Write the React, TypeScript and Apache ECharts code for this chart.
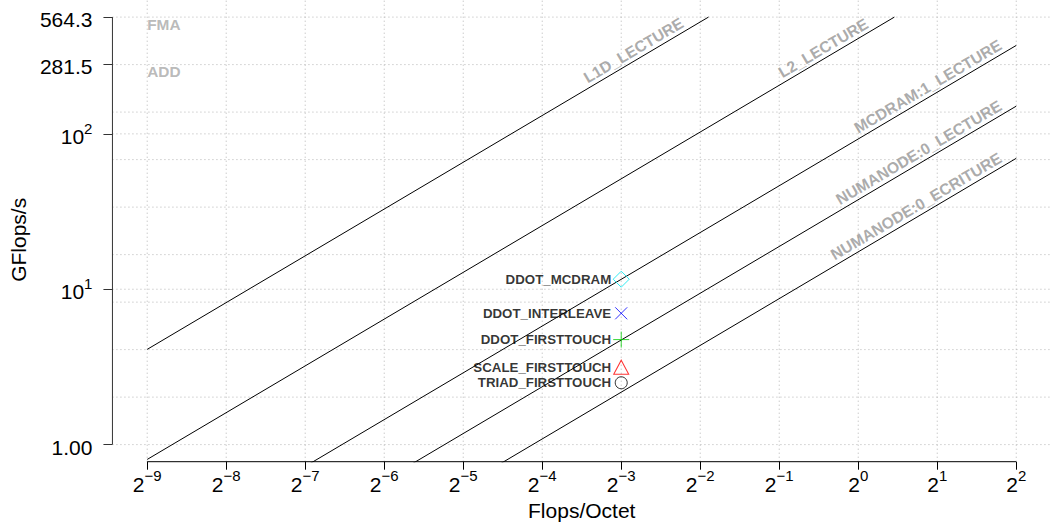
import React, { useEffect, useRef } from 'react';
import * as echarts from 'echarts';

// ---- data ----
const X_TICK_EXPONENTS = [-9, -8, -7, -6, -5, -4, -3, -2, -1, 0, 1, 2]; // Flops/Octet = 2^e
const Y_TICK_VALUES = [1, 10, 100, 281.5, 564.3];
const Y_TICK_LABELS = ['1.00', '10^1', '10^2', '281.5', '564.3'];
const Y_GRID_VALUES = [1.0, 2.021, 4.086, 8.26, 16.7, 33.77, 68.29, 138.1, 279.1, 564.3, 10, 100];

const PEAK_NAMES = ['FMA', 'ADD'];
const PEAK_VALUES = [564.3, 281.5]; // GFlops/s

const ROOF_NAMES = ['L1D_LECTURE', 'L2_LECTURE', 'MCDRAM:1_LECTURE', 'NUMANODE:0_LECTURE', 'NUMANODE:0_ECRITURE'];
const ROOF_BANDWIDTHS = [2100, 411, 92.7, 37.7, 17.4]; // GB/s
const ROOF_LABEL_EXPONENT = [-2.17, 0.17, 1.86, 1.86, 1.86]; // where each label ends (2^e)

const POINT_NAMES = ['DDOT_MCDRAM', 'DDOT_INTERLEAVE', 'DDOT_FIRSTTOUCH', 'SCALE_FIRSTTOUCH', 'TRIAD_FIRSTTOUCH'];
const POINT_X = [0.125, 0.125, 0.125, 0.125, 0.125];
const POINT_Y = [11.6, 7.0, 4.74, 3.15, 2.5];

// ---- styles ----
const POINT_STYLES = [
  { symbol: 'diamond', size: [16, 16], color: '#00E5EE' },
  { symbol: 'path://M0,0L10,10M10,0L0,10', size: [12, 12], color: '#0000FF' },
  { symbol: 'path://M5,0L5,10M0,5L10,5', size: [16, 16], color: '#00CD00' },
  { symbol: 'triangle', size: [15, 14], color: '#FF0000' },
  { symbol: 'circle', size: [12, 12], color: '#000000' },
];

const FONT = '"Liberation Sans", Arial, Helvetica, sans-serif';
const GRID_STYLE = { color: '#b4b4b4', width: 1, type: [1, 3] as number[] };
const BASE_FS = 21;
const SUP_FS = 15;
// Liberation Sans advance widths (em)
const W_DIGIT = 0.556;
const W_MINUS = 0.584;

export default function App() {
  const ref = useRef<HTMLDivElement>(null);

  useEffect(() => {
    const chart = echarts.init(ref.current!, undefined, { renderer: 'svg' });
    const L2 = Math.log2;
    const L10 = Math.log10;

    const xLo = X_TICK_EXPONENTS[0];
    const xHi = X_TICK_EXPONENTS[X_TICK_EXPONENTS.length - 1];
    const xPad = 0.04 * (xHi - xLo);
    const xMin = xLo - xPad;
    const xMax = xHi + xPad;
    const yLo = L10(Y_TICK_VALUES[0]);
    const yHi = L10(PEAK_VALUES[0]);
    const yPad = 0.04 * (yHi - yLo);
    const yMin = yLo - yPad;
    const yMax = yHi + yPad;

    const G = { left: 110.5, top: -1.5, width: 946.5, height: 463.2 };
    const pxOct = G.width / (xMax - xMin);
    const pxDec = G.height / (yMax - yMin);
    const angle = (Math.atan((pxDec * L10(2)) / pxOct) * 180) / Math.PI;

    const supText = (e: number) => `${e < 0 ? '\u2212' : ''}${Math.abs(e)}`;
    const supWidth = (t: string) =>
      t.split('').reduce((a, c) => a + (c === '\u2212' ? W_MINUS : W_DIGIT), 0) * SUP_FS;
    const baseWidth = (t: string) => t.length * W_DIGIT * BASE_FS;

    const txt = { fontFamily: FONT, color: '#000' };
    const xBaseRich = {
      bN: { ...txt, fontSize: BASE_FS, padding: [0, supWidth('\u22129'), 0, 0] },
      bP: { ...txt, fontSize: BASE_FS, padding: [0, supWidth('9'), 0, 0] },
    };
    const xSupRich = {
      s: { ...txt, fontSize: SUP_FS, padding: [0, 0, 0, baseWidth('2')] },
    };
    const yBaseRich = {
      n: { ...txt, fontSize: BASE_FS },
      b: { ...txt, fontSize: BASE_FS, padding: [0, supWidth('1'), 0, 0] },
    };
    const ySupRich = {
      s: { ...txt, fontSize: SUP_FS },
    };

    const yIndex = (v: number) => {
      let idx = 0;
      let best = Infinity;
      Y_TICK_VALUES.forEach((t, i) => {
        const d = Math.abs(L10(t) - v);
        if (d < best) {
          best = d;
          idx = i;
        }
      });
      return idx;
    };
    const Y_SUP_TICKS = Y_TICK_VALUES.filter((_, i) => Y_TICK_LABELS[i].includes('^')).map((v) => L10(v));

    const series: any[] = [];

    // grid lines
    Y_GRID_VALUES.forEach((v) => {
      series.push({
        type: 'line',
        data: [[xMin, L10(v)], [xMax, L10(v)]],
        symbol: 'none',
        silent: true,
        clip: false,
        lineStyle: GRID_STYLE,
        z: 1,
      });
    });
    X_TICK_EXPONENTS.forEach((e) => {
      series.push({
        type: 'line',
        data: [[e, yMin], [e, yMax]],
        symbol: 'none',
        silent: true,
        clip: false,
        lineStyle: GRID_STYLE,
        z: 1,
      });
    });

    // axis lines (span tick range only)
    series.push({
      type: 'line',
      data: [[xLo, yMin], [xHi, yMin]],
      symbol: 'none',
      clip: false,
      silent: true,
      lineStyle: { color: '#000', width: 1 },
      z: 5,
    });
    series.push({
      type: 'line',
      data: [[xMin, yLo], [xMin, yHi]],
      symbol: 'none',
      clip: false,
      silent: true,
      lineStyle: { color: '#333', width: 1 },
      z: 5,
    });

    // rooflines
    ROOF_BANDWIDTHS.forEach((bw, i) => {
      const xEnd = Math.min(xHi, L2(PEAK_VALUES[0] / bw));
      series.push({
        type: 'line',
        name: ROOF_NAMES[i],
        data: [
          [xLo, L10(bw * Math.pow(2, xLo))],
          [xEnd, L10(bw * Math.pow(2, xEnd))],
        ],
        symbol: 'none',
        clip: true,
        silent: true,
        lineStyle: { color: '#000', width: 1 },
        z: 3,
      });
    });

    // roof labels
    series.push({
      type: 'scatter',
      silent: true,
      symbol: 'circle',
      symbolSize: 1,
      itemStyle: { color: 'rgba(0,0,0,0)' },
      data: ROOF_NAMES.map((n, i) => ({
        name: n,
        value: [ROOF_LABEL_EXPONENT[i], L10(ROOF_BANDWIDTHS[i] * Math.pow(2, ROOF_LABEL_EXPONENT[i]))],
      })),
      label: {
        show: true,
        formatter: '{b}',
        position: 'inside',
        align: 'right',
        verticalAlign: 'bottom',
        rotate: angle,
        color: '#969696',
        fontSize: 15.7,
        lineHeight: 19,
        fontWeight: 'bold',
        fontFamily: FONT,
      },
      z: 4,
    });

    // peak labels
    series.push({
      type: 'scatter',
      silent: true,
      symbol: 'circle',
      symbolSize: 1,
      itemStyle: { color: 'rgba(0,0,0,0)' },
      data: PEAK_NAMES.map((n, i) => ({ name: n, value: [xLo, L10(PEAK_VALUES[i])] })),
      label: {
        show: true,
        formatter: '{b}',
        position: 'inside',
        align: 'left',
        verticalAlign: 'top',
        offset: [0, 0],
        color: '#a8a8a8',
        fontSize: 15.4,
        lineHeight: 15,
        fontWeight: 'bold',
        fontFamily: FONT,
      },
      z: 4,
    });

    // measured points
    POINT_NAMES.forEach((n, i) => {
      const st = POINT_STYLES[i];
      series.push({
        type: 'scatter',
        name: n,
        silent: true,
        symbol: st.symbol,
        symbolSize: st.size,
        itemStyle: { color: 'none', borderColor: st.color, borderWidth: 1 },
        data: [{ name: n, value: [L2(POINT_X[i]), L10(POINT_Y[i])] }],
        label: {
          show: true,
          formatter: '{b}',
          position: 'inside',
          align: 'right',
          verticalAlign: 'middle',
          offset: [-10, 0],
          color: '#000',
          fontSize: 13.3,
          fontWeight: 'bold',
          fontFamily: FONT,
        },
        z: 6,
      });
    });

    const hidden = { axisLine: { show: false, onZero: false }, axisTick: { show: false }, splitLine: { show: false } };

    const option: any = {
      animation: false,
      backgroundColor: '#fff',
      grid: { left: G.left, top: G.top, width: G.width, height: G.height, containLabel: false },
      xAxis: [
        {
          type: 'value',
          min: xMin,
          max: xMax,
          position: 'bottom',
          name: 'Flops/Octet',
          nameLocation: 'middle',
          nameGap: 33,
          nameTextStyle: { fontSize: BASE_FS, fontFamily: FONT, color: '#000' },
          axisLine: { show: false, onZero: false },
          splitLine: { show: false },
          axisTick: { show: true, customValues: X_TICK_EXPONENTS, length: 8, lineStyle: { color: '#000', width: 1 } },
          axisLabel: {
            show: true,
            customValues: X_TICK_EXPONENTS,
            margin: 12.5,
            lineHeight: 20,
            formatter: (v: number) => {
              const e = Math.round(v);
              return e < 0 ? `{bN|2}` : `{bP|2}`;
            },
            rich: xBaseRich,
          },
        },
        {
          type: 'value',
          min: xMin,
          max: xMax,
          position: 'bottom',
          ...hidden,
          axisLabel: {
            show: true,
            customValues: X_TICK_EXPONENTS,
            margin: 3.3,
            lineHeight: 20,
            formatter: (v: number) => `{s|${supText(Math.round(v))}}`,
            rich: xSupRich,
          },
        },
      ],
      yAxis: [
        {
          type: 'value',
          min: yMin,
          max: yMax,
          position: 'left',
          name: 'GFlops/s',
          nameLocation: 'middle',
          nameGap: 80,
          nameTextStyle: { fontSize: BASE_FS, fontFamily: FONT, color: '#000', padding: [0, 18, 0, 0] },
          axisLine: { show: false, onZero: false },
          splitLine: { show: false },
          axisTick: { show: true, customValues: Y_TICK_VALUES.map((v) => L10(v)), length: 9, lineStyle: { color: '#333', width: 1 } },
          axisLabel: {
            show: true,
            customValues: Y_TICK_VALUES.map((v) => L10(v)),
            margin: 20,
            verticalAlign: 'top',
            lineHeight: 5,
            formatter: (v: number) => {
              const lab = Y_TICK_LABELS[yIndex(v)];
              if (lab.includes('^')) return `{b|${lab.split('^')[0]}}`;
              return `{n|${lab}}`;
            },
            rich: yBaseRich,
          },
        },
        {
          type: 'value',
          min: yMin,
          max: yMax,
          position: 'left',
          ...hidden,
          axisLabel: {
            show: true,
            customValues: Y_SUP_TICKS,
            margin: 20,
            verticalAlign: 'bottom',
            lineHeight: 11,
            formatter: (v: number) => `{s|${Y_TICK_LABELS[yIndex(v)].split('^')[1]}}`,
            rich: ySupRich,
          },
        },
      ],
      series,
    };

    chart.setOption(option);
    return () => chart.dispose();
  }, []);

  return (
    <div
      ref={ref}
      style={{ position: 'absolute', left: 0, top: 0, width: 1051, height: 527, background: '#fff' }}
    />
  );
}
